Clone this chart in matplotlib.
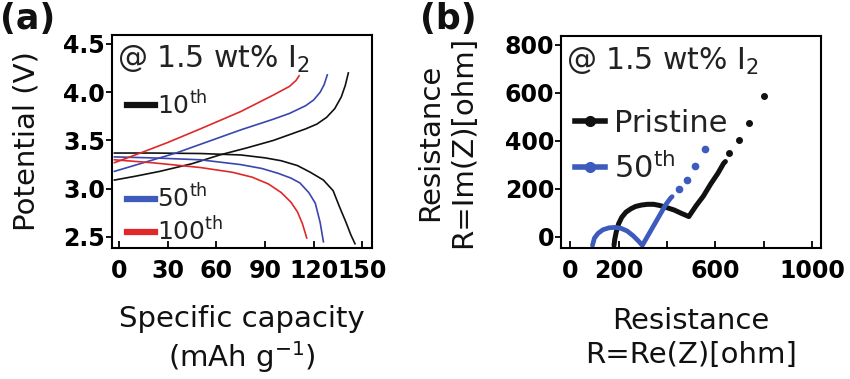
import matplotlib
matplotlib.use("Agg")
import matplotlib.pyplot as plt
from matplotlib.lines import Line2D

plt.rcParams["font.family"] = ["DejaVu Sans"]
plt.rcParams["mathtext.fontset"] = "dejavusans"

# ---------------- data: panel (a) charge/discharge ----------------
c10_charge_x = [-3, 10, 25, 45, 62, 78, 95, 105, 115, 122, 128, 133, 137, 139.5, 141.4]
c10_charge_v = [3.09, 3.13, 3.18, 3.26, 3.35, 3.42, 3.50, 3.56, 3.62, 3.67, 3.74, 3.83, 3.95, 4.07, 4.20]
c10_dis_x = [-3, 20, 50, 75, 90, 100, 110, 118, 126, 132, 136, 140, 143, 145.5]
c10_dis_v = [3.37, 3.37, 3.365, 3.35, 3.32, 3.29, 3.24, 3.17, 3.09, 2.98, 2.81, 2.65, 2.52, 2.43]

c50_charge_x = [-3, 15, 35, 55, 75, 95, 105, 115, 120, 124, 126.5, 128.4]
c50_charge_v = [3.18, 3.27, 3.37, 3.49, 3.61, 3.72, 3.78, 3.86, 3.92, 4.00, 4.08, 4.18]
c50_dis_x = [-3, 20, 50, 75, 88, 98, 106, 111.5, 117, 121, 124, 126]
c50_dis_v = [3.33, 3.32, 3.30, 3.25, 3.21, 3.16, 3.11, 3.06, 2.96, 2.85, 2.65, 2.45]

c100_charge_x = [-3, 13, 30, 50, 75, 95, 105, 109, 111]
c100_charge_v = [3.27, 3.37, 3.48, 3.62, 3.80, 3.97, 4.06, 4.12, 4.17]
c100_dis_x = [-3, 20, 50, 70, 82, 92, 100, 106, 110, 113, 115, 115.7]
c100_dis_v = [3.30, 3.27, 3.22, 3.17, 3.12, 3.05, 2.96, 2.86, 2.76, 2.64, 2.53, 2.49]

a_xticks = [0, 30, 60, 90, 120, 150]
a_yticks = [2.5, 3.0, 3.5, 4.0, 4.5]

# ---------------- data: panel (b) Nyquist ----------------
pristine_arc_x = [181, 184, 190, 200, 213, 230, 250, 270, 295, 320, 345, 370, 400, 430, 460, 490,
                  520, 550, 580, 610, 634, 641]
pristine_arc_y = [-35, -10, 20, 55, 82, 103, 117, 127, 133, 136, 136, 131, 122, 112, 98, 85,
                  130, 170, 220, 265, 307, 314]
pristine_tail_x = [658, 697, 739, 800]
pristine_tail_y = [349, 404, 475, 587]

cyc50_arc_x = [92, 100, 115, 135, 160, 185, 210, 235, 260, 280, 298, 315, 335, 355, 375, 395, 414, 421]
cyc50_arc_y = [-35, -5, 15, 30, 38, 40, 36, 25, 5, -15, -35, -5, 30, 65, 100, 135, 161, 168]
cyc50_tail_x = [449, 482, 516, 558]
cyc50_tail_y = [201, 239, 295, 365]

b_xticks = [0, 200, 400, 600, 800, 1000]
b_xticklabels = ["0", "200", "", "600", "", "1000"]
b_yticks = [0, 200, 400, 600, 800]

BLACK = "#111111"
BLUE_A = "#3a46ae"
RED_A = "#e0282a"
BLUE_B = "#3d5abd"
TXT = "#222222"

fig = plt.figure(figsize=(8.5, 3.79), dpi=100)
axa = fig.add_axes([112/850, 1-248/379, 260/850, 213/379])
axb = fig.add_axes([561/850, 1-248/379, 260/850, 212/379])

TICKFS = 17
for ax in (axa, axb):
    for s in ax.spines.values():
        s.set_linewidth(1.5)
    ax.tick_params(axis="x", direction="in", length=5, width=1.3, labelsize=TICKFS, pad=8)
    ax.tick_params(axis="y", direction="out", length=4, width=1.3, labelsize=TICKFS, pad=1)

# ---- panel (a)
lw = 1.2
axa.plot(c10_charge_x, c10_charge_v, color=BLACK, lw=lw)
axa.plot(c10_dis_x, c10_dis_v, color=BLACK, lw=lw)
axa.plot(c50_charge_x, c50_charge_v, color=BLUE_A, lw=lw)
axa.plot(c50_dis_x, c50_dis_v, color=BLUE_A, lw=lw)
axa.plot(c100_charge_x, c100_charge_v, color=RED_A, lw=lw)
axa.plot(c100_dis_x, c100_dis_v, color=RED_A, lw=lw)
axa.set_xlim(-4.5, 156)
axa.set_ylim(2.386, 4.593)
axa.set_xticks(a_xticks)
axa.set_xticklabels([str(t) for t in a_xticks], fontweight="bold")
axa.set_yticks(a_yticks)
axa.set_yticklabels([f"{t:.1f}" for t in a_yticks], fontweight="bold")
axa.set_xlabel("Specific capacity\n(mAh g$^{-1}$)", fontsize=21, color=BLACK, linespacing=1.2, labelpad=16)
axa.set_ylabel("Potential (V)", fontsize=21, color=BLACK, labelpad=16)
axa.text(0.02, 0.885, "@ 1.5 wt% I$_2$", transform=axa.transAxes, fontsize=21.5,
         color=TXT, va="center", ha="left")

h10 = [Line2D([], [], color=BLACK, lw=4.5)]
leg1 = axa.legend(h10, [r"10$^{\mathrm{th}}$"], loc="upper left", bbox_to_anchor=(0.0, 0.81),
                  frameon=False, fontsize=18, handlelength=1.1, handletextpad=0.1,
                  borderaxespad=0.2, labelcolor=TXT)
axa.add_artist(leg1)
h2 = [Line2D([], [], color=BLUE_B, lw=4.5), Line2D([], [], color=RED_A, lw=4.5)]
axa.legend(h2, [r"50$^{\mathrm{th}}$", r"100$^{\mathrm{th}}$"], loc="lower left",
           bbox_to_anchor=(0.0, -0.06),
           frameon=False, fontsize=18, handlelength=1.1, handletextpad=0.1,
           labelspacing=0.2, borderaxespad=0.2, labelcolor=TXT)

# ---- panel (b)
axb.plot(pristine_arc_x, pristine_arc_y, color=BLACK, lw=3.6, solid_capstyle="round")
axb.plot(pristine_tail_x, pristine_tail_y, "o", color=BLACK, ms=4)
axb.plot(cyc50_arc_x, cyc50_arc_y, color=BLUE_B, lw=3.4, solid_capstyle="round")
axb.plot(cyc50_tail_x, cyc50_tail_y, "o", color=BLUE_B, ms=4.5)
axb.set_xlim(-38, 1036)
axb.set_ylim(-46, 837)
axb.set_xticks(b_xticks)
axb.set_xticklabels(b_xticklabels, fontweight="bold")
axb.set_yticks(b_yticks)
axb.set_yticklabels([str(t) for t in b_yticks], fontweight="bold")
axb.set_xlabel("Resistance\nR=Re(Z)[ohm]", fontsize=21, color=BLACK, linespacing=1.3, labelpad=17)
axb.set_ylabel("Resistance\nR=Im(Z)[ohm]", fontsize=21, color=BLACK, linespacing=1.2, labelpad=20)
axb.text(0.02, 0.88, "@ 1.5 wt% I$_2$", transform=axb.transAxes, fontsize=21.5,
         color=TXT, va="center", ha="left")
hb = [Line2D([], [], color=BLACK, lw=4, marker="o", ms=7),
      Line2D([], [], color=BLUE_B, lw=4, marker="o", ms=7)]
axb.legend(hb, ["Pristine", r"50$^{\mathrm{th}}$"], loc="upper left", bbox_to_anchor=(0.0, 0.72),
           frameon=False, fontsize=22, handlelength=1.0, handletextpad=0.3,
           labelspacing=0.45, borderaxespad=0.05, labelcolor=TXT)

fig.text(0.0, 0.995, "(a)", fontsize=25, fontweight="bold", va="top", ha="left", color=BLACK)
fig.text(420/850, 0.995, "(b)", fontsize=25, fontweight="bold", va="top", ha="left", color=BLACK)

fig.savefig("out.png", dpi=100)
